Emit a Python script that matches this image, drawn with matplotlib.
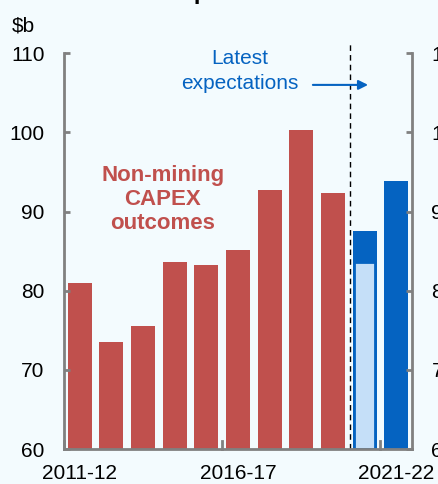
import matplotlib
matplotlib.use('Agg')
import matplotlib.pyplot as plt
import numpy as np

plt.rcParams['font.family'] = ['Liberation Sans', 'DejaVu Sans']

# Non-mining capex, $b, financial years
years = ['2011-12', '2012-13', '2013-14', '2014-15', '2015-16', '2016-17',
         '2017-18', '2018-19', '2019-20', '2020-21', '2021-22']
outcomes = [81.0, 73.5, 75.5, 83.6, 83.3, 85.1, 92.7, 100.3, 92.4]
expect_latest = [87.6, 93.9]      # 2020-21, 2021-22
expect_prior = [83.6]             # earlier estimate for 2020-21
tick_years = ['2011-12', '2016-17', '2021-22']

RED = '#C0504D'
BLUE = '#0563C1'
LIGHTBLUE = '#C5DFF8'
BG = '#F3FBFE'
GREY = '#808080'
FS = 15

fig = plt.figure(figsize=(4.38, 4.84), dpi=100, facecolor=BG)
ax = fig.add_axes([0.146, 0.0723, 0.7946, 0.8177])
ax.set_facecolor(BG)

x = np.arange(len(years))
w = 0.76
ax.bar(x[:len(outcomes)], np.array(outcomes) - 60, w, bottom=60, color=RED)
ax.bar(x[len(outcomes):], np.array(expect_latest) - 60, w, bottom=60, color=BLUE)
ax.bar(x[len(outcomes)], expect_prior[0] - 60, w - 0.12, bottom=60,
       color=LIGHTBLUE, edgecolor=BLUE, linewidth=2)

ax.set_xlim(-0.5, len(years) - 0.5)
ax.set_ylim(60, 110)
ax.set_yticks([60, 70, 80, 90, 100, 110])
ax.tick_params(axis='y', direction='in', length=4, width=2, color=GREY,
               labelsize=FS, pad=14, right=True, labelright=True)

# year labels under every fifth bar, ticks on the year boundaries
ax.set_xticks([years.index(t) for t in tick_years])
ax.set_xticklabels(tick_years, fontsize=FS)
ax.tick_params(axis='x', length=0, pad=11)
for b in [-0.5, 4.5, 9.5]:
    ax.plot([b, b], [60, 61.0], color=GREY, lw=2, clip_on=False)

for s in ['left', 'right', 'bottom']:
    ax.spines[s].set_color(GREY)
    ax.spines[s].set_linewidth(2)
ax.spines['top'].set_visible(False)

# forecast divider
ax.plot([8.55, 8.55], [60, 111.4], color='black', lw=1, ls=(0, (4, 3)),
        clip_on=False)

ax.text(2.63, 95.9, 'Non-mining\nCAPEX\noutcomes', color=RED, fontsize=16,
        fontweight='bold', ha='center', va='top', linespacing=1.2)
ax.text(5.07, 110.5, 'Latest\nexpectations', color=BLUE, fontsize=FS,
        ha='center', va='top', linespacing=1.4)
ax.annotate('', xy=(9.2, 106.0), xytext=(7.28, 106.0),
            arrowprops=dict(arrowstyle='-|>', color=BLUE, lw=1.5,
                            mutation_scale=14))

fig.text(12 / 438, 1 - 26 / 484, '$b', fontsize=FS, ha='left', va='center')
fig.text(0.545, 1.0 + 1.5 / 484, 'Expectations', fontsize=17,
         fontweight='bold', ha='center', va='baseline')

fig.savefig('out.png', dpi=100, facecolor=BG)
